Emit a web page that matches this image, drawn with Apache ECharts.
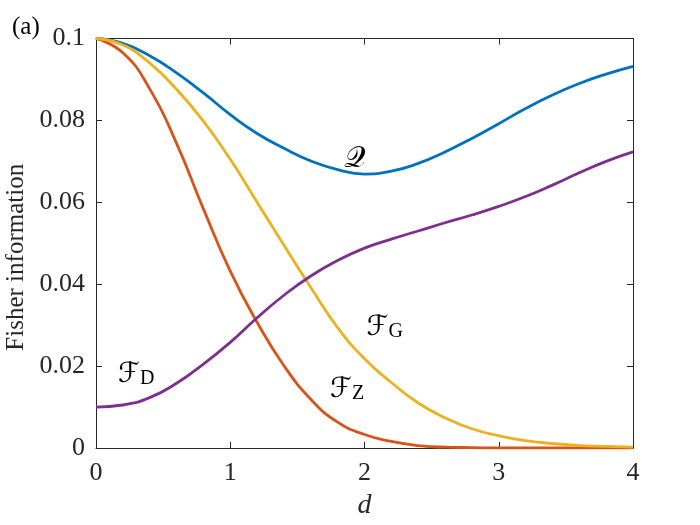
<!DOCTYPE html>
<html>
<head>
<meta charset="utf-8">
<script src="https://cdn.jsdelivr.net/npm/echarts@6/dist/echarts.min.js"></script>
<style>html,body{margin:0;padding:0;background:#fff}#c{width:700px;height:525px}</style>
</head>
<body>
<div id="c"></div>
<script>
// ---- data ----
var dValues = [0, 0.2, 0.4, 0.6, 0.8, 1.0, 1.2, 1.4, 1.6, 1.8, 2.0, 2.2, 2.4, 2.6, 2.8, 3.0, 3.2, 3.4, 3.6, 3.8, 4.0];
var Q  = [0.1000, 0.0988, 0.0958, 0.0916, 0.0867, 0.0814, 0.0768, 0.0732, 0.0701, 0.0680, 0.0669, 0.0676, 0.0695, 0.0723, 0.0756, 0.0792, 0.0829, 0.0862, 0.0890, 0.0913, 0.0932];
var FZ = [0.1000, 0.0965, 0.0877, 0.0744, 0.0584, 0.0432, 0.0307, 0.0201, 0.0119, 0.0063, 0.0033, 0.0016, 0.0006, 0.0002, 0.0001, 0.0000, 0.0000, 0.0000, 0.0000, 0.0000, 0.0000];
var FG = [0.1000, 0.0984, 0.0940, 0.0876, 0.0798, 0.0705, 0.0600, 0.0495, 0.0392, 0.0294, 0.0218, 0.0160, 0.0110, 0.0074, 0.0047, 0.0030, 0.0018, 0.0011, 0.0006, 0.0004, 0.0002];
var FD = [0.0100, 0.0105, 0.0123, 0.0158, 0.0205, 0.0258, 0.0318, 0.0373, 0.0420, 0.0458, 0.0488, 0.0510, 0.0530, 0.0550, 0.0569, 0.0590, 0.0614, 0.0642, 0.0672, 0.0700, 0.0723];
var xTickLabels = ['0', '1', '2', '3', '4'];
var yTickLabels = ['0', '0.02', '0.04', '0.06', '0.08', '0.1'];
// curve annotations: [d, value, main glyph, subscript]
var labelQ  = [1.93, 0.0708, '\uD835\uDCAC', ''];
var labelFG = [2.15, 0.0299, '\u2131', 'G'];
var labelFZ = [1.87, 0.0147, '\u2131', 'Z'];
var labelFD = [0.30, 0.0184, '\u2131', 'D'];

function pairs(ys) { return dValues.map(function (d, i) { return [d, ys[i]]; }); }

var serif = 'Liberation Serif';
var axisColor = '#262626';
var richStyles = {
  f: { fontSize: 28, fontFamily: 'DejaVu Sans', color: '#000', lineHeight: 32, verticalAlign: 'bottom' },
  q: { fontSize: 30, fontFamily: 'DejaVu Serif', color: '#000', lineHeight: 32, verticalAlign: 'bottom' },
  s: { fontSize: 20, fontFamily: serif, color: '#000', lineHeight: 20, verticalAlign: 'bottom' }
};
var tickRich = { t: { fontFamily: serif, fontSize: 26, color: axisColor } };
function annot(l) {
  var txt = l[3] ? '{f|' + l[2] + '}{s|' + l[3] + '}' : '{q|' + l[2] + '}';
  return {
    coord: [l[0], l[1]], symbol: 'circle', symbolSize: 1,
    itemStyle: { color: 'rgba(0,0,0,0)' },
    label: { show: true, position: 'inside', formatter: txt, rich: richStyles }
  };
}

function line(name, ys, color, marks) {
  return {
    name: name, type: 'line', data: pairs(ys), smooth: 0.5,
    showSymbol: false, symbol: 'none', xAxisIndex: 0, yAxisIndex: 0,
    lineStyle: { color: color, width: 2.8 }, itemStyle: { color: color },
    silent: true, animation: false,
    markPoint: marks ? { silent: true, animation: false, data: marks.map(annot) } : undefined
  };
}

var xBase = { type: 'value', min: 0, max: 4, interval: 1, splitLine: { show: false },
  axisLine: { show: true, onZero: false, lineStyle: { color: axisColor, width: 1 } },
  axisTick: { show: true, inside: true, length: 6, lineStyle: { color: axisColor } } };
var yBase = { type: 'value', min: 0, max: 0.1, interval: 0.02, splitLine: { show: false },
  axisLine: { show: true, onZero: false, lineStyle: { color: axisColor, width: 1 } },
  axisTick: { show: true, inside: true, length: 6, lineStyle: { color: axisColor } } };

var chart = echarts.init(document.getElementById('c'), null, { renderer: 'canvas' });
chart.setOption({
  animation: false,
  backgroundColor: '#fff',
  textStyle: { fontFamily: serif },
  grid: { left: 96, right: 67, top: 38.5, bottom: 77, containLabel: false, outerBoundsMode: 'none' },
  xAxis: [
    Object.assign({}, xBase, {
      position: 'bottom', name: 'd', nameLocation: 'middle', nameGap: 44,
      nameTextStyle: { fontFamily: serif, fontStyle: 'italic', fontSize: 28, color: axisColor },
      axisLabel: { show: true, margin: 12, fontFamily: serif, fontSize: 26, color: axisColor, rich: tickRich,
        formatter: function (v) { return '{t|' + xTickLabels[Math.round(v)] + '}'; } }
    }),
    Object.assign({}, xBase, { position: 'top', axisLabel: { show: false } })
  ],
  yAxis: [
    Object.assign({}, yBase, {
      position: 'left', name: '{n|Fisher information}', nameLocation: 'middle', nameGap: 66, nameRotate: 90,
      nameTextStyle: { fontFamily: serif, fontSize: 25, color: axisColor, padding: [0, 28, 0, 0],
        rich: { n: { fontFamily: serif, fontSize: 25, color: axisColor } } },
      axisLabel: { show: true, margin: 11, fontFamily: serif, fontSize: 26, color: axisColor, rich: tickRich,
        formatter: function (v) { return '{t|' + yTickLabels[Math.round(v / 0.02)] + '}'; } }
    }),
    Object.assign({}, yBase, { position: 'right', axisLabel: { show: false } })
  ],
  graphic: [{
    type: 'text', left: 12, top: 15,
    style: { text: '(a)', fontFamily: serif, fontSize: 25, fill: '#000' }
  }],
  series: [
    line('Q', Q, '#0072BD', [labelQ]),
    line('FZ', FZ, '#D95319', [labelFZ]),
    line('FG', FG, '#EDB120', [labelFG]),
    line('FD', FD, '#7E2F8E', [labelFD])
  ]
});
</script>
</body>
</html>
